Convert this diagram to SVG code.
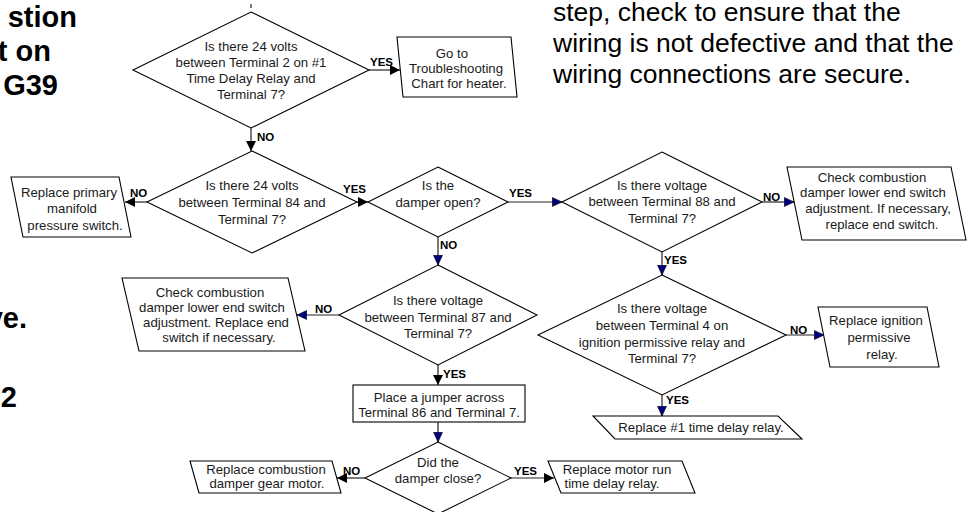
<svg xmlns="http://www.w3.org/2000/svg" width="967" height="512" viewBox="0 0 967 512">
<defs>
<marker id="ah" markerUnits="userSpaceOnUse" markerWidth="11" markerHeight="10" refX="10" refY="5" orient="auto"><path d="M0,0 L10,5 L0,10 Z" fill="#000"/></marker>
<marker id="ahn" markerUnits="userSpaceOnUse" markerWidth="11" markerHeight="10" refX="10" refY="5" orient="auto"><path d="M0.3,0.5 L10,5 L0.3,9.5 Z" fill="#000080" stroke="#000" stroke-width="0.6"/></marker>
<style>
.sh{fill:#fff;stroke:#000;stroke-width:1.1}
.t{font-family:"Liberation Sans",Arial,sans-serif;font-size:13.2px;fill:#1a1a1a;text-anchor:middle}
.lb{font-family:"Liberation Sans",Arial,sans-serif;font-size:11.5px;font-weight:bold;fill:#000}
.c{fill:none;stroke:#222;stroke-width:1.2}
.ca{marker-end:url(#ah)}
.cn{marker-end:url(#ahn)}
.big{font-family:"Liberation Sans",Arial,sans-serif;font-size:26.5px;fill:#000}
.bigb{font-family:"Liberation Sans",Arial,sans-serif;font-size:29px;font-weight:bold;fill:#000;text-anchor:end}
</style>
</defs>
<rect width="967" height="512" fill="#fff"/>

<!-- surrounding page text -->
<g id="page-text">
<text class="bigb" x="77" y="27">stion</text>
<text class="bigb" x="51" y="61">t on</text>
<text class="bigb" x="58" y="95">G39</text>
<text class="bigb" x="27" y="328">ve.</text>
<text class="bigb" x="17" y="407">2</text>
<text class="big" x="553" y="21">step, check to ensure that the</text>
<text class="big" x="553" y="52">wiring is not defective and that the</text>
<text class="big" x="553" y="83">wiring connections are secure.</text>
</g>

<!-- connectors -->
<g id="connectors">
<path class="c" d="M251,4 V8"/>
<path class="c ca" d="M369,70 H400"/>
<path class="c ca" d="M251,128 V151"/>
<path class="c ca" d="M147,202 H125"/>
<path class="c ca" d="M357,202 H368"/>
<path class="c cn" d="M508,202 H562"/>
<path class="c cn" d="M438,237 V265"/>
<path class="c cn" d="M762,202 H794"/>
<path class="c cn" d="M662,252 V275"/>
<path class="c cn" d="M786,335 H824"/>
<path class="c cn" d="M662,395 V416"/>
<path class="c cn" d="M339,315 H297"/>
<path class="c ca" d="M438,365 V385"/>
<path class="c cn" d="M438,422 V442"/>
<path class="c ca" d="M365,478 H337"/>
<path class="c ca" d="M511,478 H554"/>
<text class="lb" x="370" y="66">YES</text>
<text class="lb" x="257" y="141">NO</text>
<text class="lb" x="130" y="197">NO</text>
<text class="lb" x="343" y="193">YES</text>
<text class="lb" x="509" y="197">YES</text>
<text class="lb" x="440" y="249">NO</text>
<text class="lb" x="763" y="201">NO</text>
<text class="lb" x="664" y="264">YES</text>
<text class="lb" x="790" y="334">NO</text>
<text class="lb" x="666" y="404">YES</text>
<text class="lb" x="315" y="313">NO</text>
<text class="lb" x="443" y="378">YES</text>
<text class="lb" x="343" y="475">NO</text>
<text class="lb" x="514" y="475">YES</text>
</g>

<g id="q-time-delay">
<polygon class="sh" points="251,12 369,70 251,128 133,70"/>
<text class="t" x="251" y="51">Is there 24 volts</text>
<text class="t" x="251" y="67">between Terminal 2 on #1</text>
<text class="t" x="251" y="83">Time Delay Relay and</text>
<text class="t" x="251" y="99">Terminal 7?</text>
</g>

<g id="go-heater-chart">
<polygon class="sh" points="397,37 511,37 517,97 403,97"/>
<text class="t" x="452" y="57.5">Go to</text>
<text class="t" x="456" y="72.5">Troubleshooting</text>
<text class="t" x="459" y="87.5">Chart for heater.</text>
</g>

<g id="q-terminal-84">
<polygon class="sh" points="252,151 357,202 252,253 147,202"/>
<text class="t" x="252" y="190">Is there 24 volts</text>
<text class="t" x="252" y="207">between Terminal 84 and</text>
<text class="t" x="252" y="224">Terminal 7?</text>
</g>

<g id="replace-pressure-switch">
<polygon class="sh" points="11,177 119,177 131,237 23,237"/>
<text class="t" x="69" y="196.5">Replace primary</text>
<text class="t" x="72" y="212.5">manifold</text>
<text class="t" x="75" y="229.5">pressure switch.</text>
</g>

<g id="q-damper-open">
<polygon class="sh" points="438,167 508,202 438,237 368,202"/>
<text class="t" x="438" y="189.5">Is the</text>
<text class="t" x="438" y="206.5">damper open?</text>
</g>

<g id="q-terminal-88">
<polygon class="sh" points="662,152 762,202 662,252 562,202"/>
<text class="t" x="662" y="189.5">Is there voltage</text>
<text class="t" x="662" y="206">between Terminal 88 and</text>
<text class="t" x="662" y="222.5">Terminal 7?</text>
</g>

<g id="check-end-switch-upper">
<polygon class="sh" points="787,167 951,167 966,240 802,240"/>
<text class="t" x="872" y="181.5">Check combustion</text>
<text class="t" x="873" y="196.5">damper lower end switch</text>
<text class="t" x="878" y="212.5">adjustment. If necessary,</text>
<text class="t" x="882" y="228.5">replace end switch.</text>
</g>

<g id="q-terminal-4">
<polygon class="sh" points="662,275 786,335 662,395 538,335"/>
<text class="t" x="662" y="312.5">Is there voltage</text>
<text class="t" x="662" y="329.5">between Terminal 4 on</text>
<text class="t" x="662" y="346.5">ignition permissive relay and</text>
<text class="t" x="662" y="362.5">Terminal 7?</text>
</g>

<g id="replace-ignition-relay">
<polygon class="sh" points="818,307 927,307 939,367 830,367"/>
<text class="t" x="876" y="324.5">Replace ignition</text>
<text class="t" x="879" y="341.5">permissive</text>
<text class="t" x="882" y="359">relay.</text>
</g>

<g id="replace-time-delay-relay">
<polygon class="sh" points="593,416 778,416 802,439 615,439"/>
<text class="t" x="701" y="431.5">Replace #1 time delay relay.</text>
</g>

<g id="q-terminal-87">
<polygon class="sh" points="438,265 537,315 438,365 339,315"/>
<text class="t" x="438" y="304.5">Is there voltage</text>
<text class="t" x="438" y="321.5">between Terminal 87 and</text>
<text class="t" x="438" y="337.5">Terminal 7?</text>
</g>

<g id="check-end-switch-lower">
<polygon class="sh" points="122,278 288,278 305,351 139,351"/>
<text class="t" x="210" y="296.5">Check combustion</text>
<text class="t" x="212" y="311.5">damper lower end switch</text>
<text class="t" x="216" y="326.5">adjustment. Replace end</text>
<text class="t" x="219" y="341.5">switch if necessary.</text>
</g>

<g id="place-jumper">
<rect class="sh" x="353" y="385" width="172" height="37"/>
<text class="t" x="439" y="401.5">Place a jumper across</text>
<text class="t" x="439" y="416.5">Terminal 86 and Terminal 7.</text>
</g>

<g id="q-damper-close">
<polygon class="sh" points="438,442 511,478 438,514 365,478"/>
<text class="t" x="438" y="466.5">Did the</text>
<text class="t" x="438" y="482.5">damper close?</text>
</g>

<g id="replace-gear-motor">
<polygon class="sh" points="190,461 332,461 341,493 199,493"/>
<text class="t" x="266" y="473.5">Replace combustion</text>
<text class="t" x="267" y="488">damper gear motor.</text>
</g>

<g id="replace-motor-run-relay">
<polygon class="sh" points="548,461 682,461 695,493 561,493"/>
<text class="t" x="617" y="473.5">Replace motor run</text>
<text class="t" x="612" y="488">time delay relay.</text>
</g>
</svg>
